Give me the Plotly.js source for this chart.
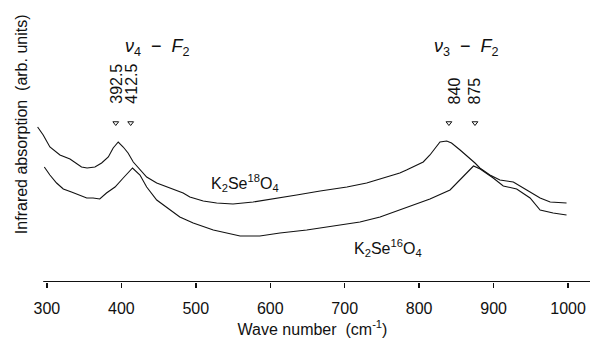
<!DOCTYPE html>
<html>
<head>
<meta charset="utf-8">
<script src="https://cdn.plot.ly/plotly-3.0.1.min.js"></script>
<style>html,body{margin:0;padding:0;background:#fff;}#chart{width:590px;height:338px;}</style>
</head>
<body>
<div id="chart"></div>
<script>
// K2Se18O4 spectrum (wave number, cm-1 / absorption, arb. units)
var waveO18 = [287.5, 295, 304, 317.5, 331, 337.5, 346.5, 354, 364.5, 373.5, 382.5, 389, 395.8, 402.5, 409, 416, 425, 434, 447.5, 465, 483, 492, 510, 528, 550, 577, 604, 635.5, 667, 703, 729.5, 756.5, 774, 783, 805.5, 814.5, 823.5, 828, 837, 843.5, 855, 866, 875, 881.5, 895, 908.5, 926.5, 944.5, 962.5, 976, 998];
var absO18 = [1.55, 1.47, 1.35, 1.27, 1.23, 1.20, 1.15, 1.14, 1.15, 1.19, 1.25, 1.34, 1.40, 1.35, 1.29, 1.20, 1.12, 1.05, 0.99, 0.94, 0.89, 0.85, 0.81, 0.79, 0.78, 0.80, 0.83, 0.87, 0.91, 0.95, 0.99, 1.05, 1.09, 1.12, 1.20, 1.27, 1.35, 1.40, 1.41, 1.39, 1.32, 1.25, 1.19, 1.14, 1.07, 1.02, 1.00, 0.92, 0.84, 0.80, 0.79];

// K2Se16O4 spectrum
var waveO16 = [296.5, 304, 313, 322, 333, 344.5, 353.5, 362, 371, 380, 391.5, 402.5, 415, 425, 434, 447.5, 465, 478.5, 487.5, 496.5, 523.5, 559.5, 586, 613, 649, 684.5, 720.5, 747.5, 765.5, 792, 814.5, 841.5, 850.5, 864, 873, 882, 899.5, 913, 931, 949, 962.5, 980, 998];
var absO16 = [1.15, 1.07, 0.99, 0.93, 0.90, 0.87, 0.84, 0.84, 0.83, 0.89, 0.95, 1.04, 1.14, 1.07, 0.95, 0.82, 0.72, 0.65, 0.62, 0.59, 0.52, 0.46, 0.46, 0.49, 0.52, 0.56, 0.60, 0.65, 0.70, 0.77, 0.83, 0.92, 0.99, 1.09, 1.16, 1.13, 1.04, 0.96, 0.93, 0.84, 0.72, 0.69, 0.67];

// marked peak positions
var peakWaves = [392.5, 412.5, 840, 875];
var peakLabels = ['392.5', '412.5', '840', '875'];
var peakMarkerLevel = [1.59, 1.59, 1.59, 1.59];

// x tick values
var xTicks = [300, 400, 500, 600, 700, 800, 900, 1000];
var xTickText = ['300', '400', '500', '600', '700', '800', '900', '1000'];

// band labels
var bandLabels = ['<i>ν</i><sub>4</sub>  −  <i>F</i><sub>2</sub>', '<i>ν</i><sub>3</sub>  −  <i>F</i><sub>2</sub>'];
var bandX = [448, 864];
var seriesNames = ['K<sub>2</sub>Se<sup>18</sup>O<sub>4</sub>', 'K<sub>2</sub>Se<sup>16</sup>O<sub>4</sub>'];

var FONT = 'Liberation Sans, Arial, Helvetica, sans-serif';
var lineStyle = {color: '#111', width: 1.1};

var traces = [
  {x: waveO18, y: absO18, type: 'scatter', mode: 'lines', line: lineStyle, name: seriesNames[0], hoverinfo: 'x+y'},
  {x: waveO16, y: absO16, type: 'scatter', mode: 'lines', line: lineStyle, name: seriesNames[1], hoverinfo: 'x+y'},
  {x: peakWaves, y: peakMarkerLevel, type: 'scatter', mode: 'markers',
   marker: {symbol: 'triangle-down-open', size: 5, color: '#111', line: {width: 1, color: '#111'}}, hoverinfo: 'x'}
];

var annotations = [];
peakWaves.forEach(function (w, i) {
  annotations.push({x: w, y: 1.76, xref: 'x', yref: 'y', text: peakLabels[i], showarrow: false,
    textangle: -90, yanchor: 'bottom', xanchor: 'center', xshift: (peakLabels[i] === '840' ? 6 : 0),
    font: {family: FONT, size: 16, color: '#111'}});
});
bandLabels.forEach(function (t, i) {
  annotations.push({x: bandX[i], y: 2.35, xref: 'x', yref: 'y', text: t, showarrow: false,
    font: {family: FONT, size: 18, color: '#111'}});
});
annotations.push({x: 566, y: 0.99, xref: 'x', yref: 'y', text: seriesNames[0], showarrow: false,
  font: {family: FONT, size: 16, color: '#111'}});
annotations.push({x: 758, y: 0.34, xref: 'x', yref: 'y', text: seriesNames[1], showarrow: false,
  font: {family: FONT, size: 16, color: '#111'}});
annotations.push({x: -0.025, y: 1.58, xref: 'paper', yref: 'y', text: 'Infrared absorption  (arb. units)',
  showarrow: false, textangle: -90, xanchor: 'center', yanchor: 'middle',
  font: {family: FONT, size: 16, color: '#111'}});

var layout = {
  width: 590, height: 338,
  margin: {l: 35, r: 0, t: 0, b: 56},
  paper_bgcolor: '#fff', plot_bgcolor: '#fff',
  showlegend: false,
  font: {family: FONT, size: 16, color: '#111'},
  xaxis: {
    range: [284, 1029.5], showgrid: false, zeroline: false, showline: false,
    tickmode: 'array', tickvals: xTicks, ticktext: xTickText,
    ticks: 'outside', ticklen: 5, tickwidth: 1.5, tickcolor: '#111',
    ticklabelstandoff: 7,
    tickfont: {family: FONT, size: 16, color: '#111'},
    title: {text: 'Wave number  (cm<sup>-1</sup>)', font: {family: FONT, size: 16, color: '#111'}, standoff: 10},
    automargin: false
  },
  yaxis: {
    range: [0, 2.82], showgrid: false, zeroline: false, showline: false,
    showticklabels: false, ticks: '', automargin: false
  },
  shapes: [
    {type: 'line', xref: 'x', yref: 'y', x0: 295, x1: 1029.5, y0: 0, y1: 0, line: {color: '#111', width: 1.8}}
  ],
  annotations: annotations
};

Plotly.newPlot('chart', traces, layout, {staticPlot: true, displayModeBar: false});
</script>
</body>
</html>
